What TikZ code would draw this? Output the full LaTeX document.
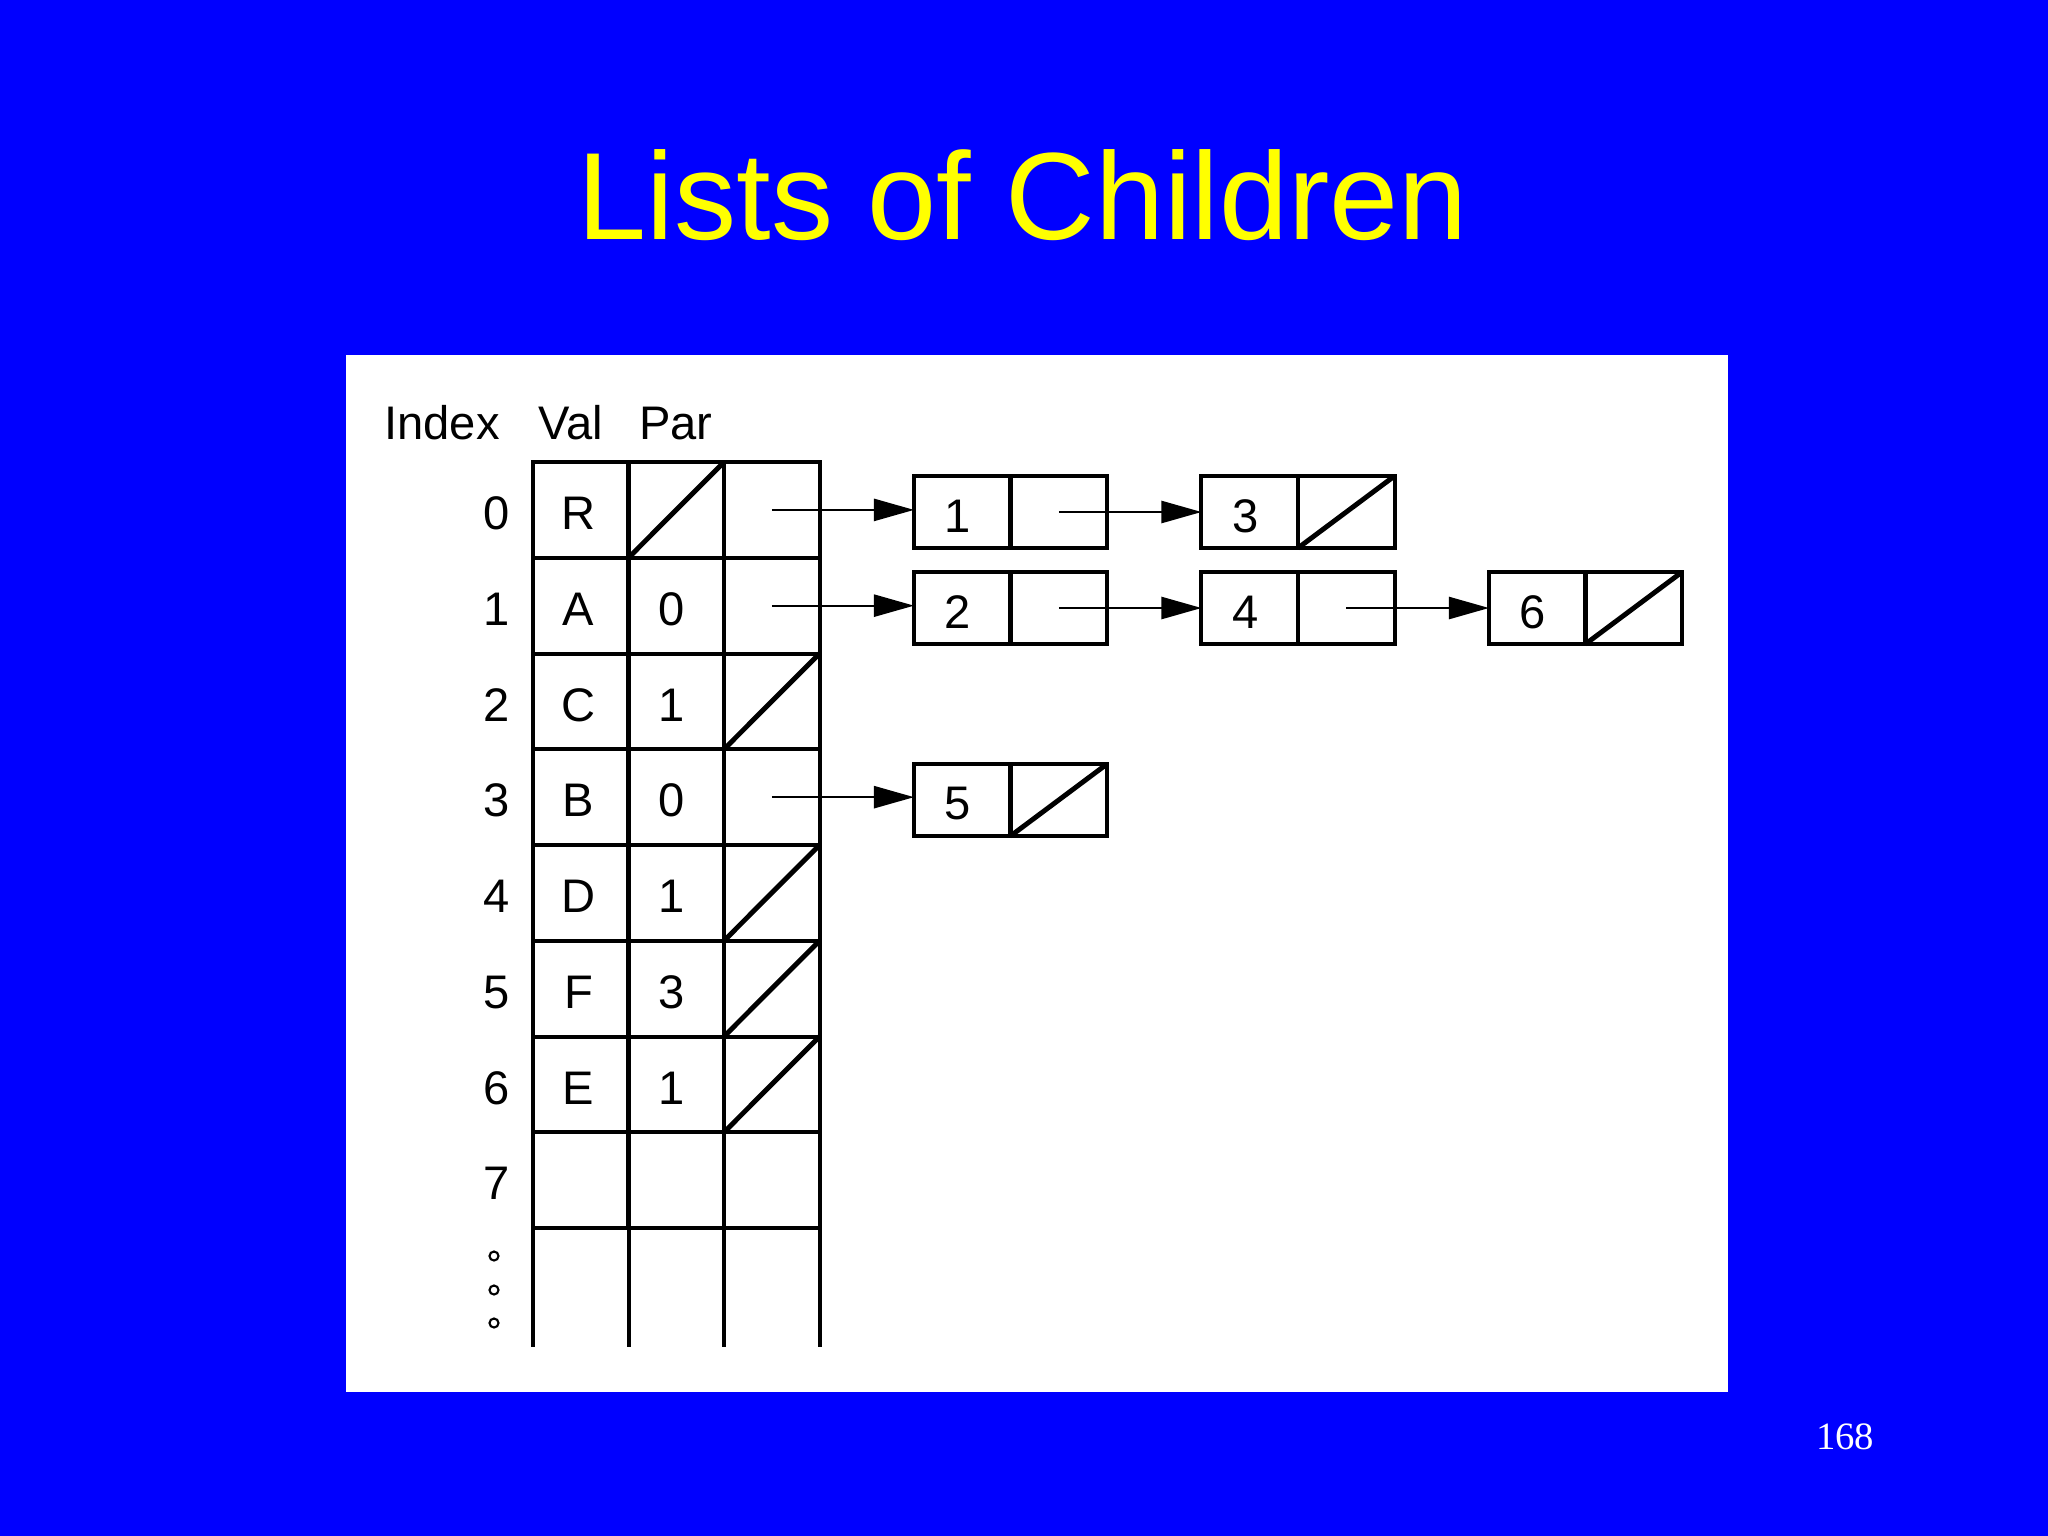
\documentclass[tikz,border=0pt]{standalone}
\usepackage{fontspec}
\setmainfont{Liberation Sans}
\newfontfamily\pagefont{Liberation Serif}
\usetikzlibrary{arrows.meta}
\definecolor{slideblue}{RGB}{0,0,255}
\definecolor{titleyellow}{RGB}{255,255,0}
\begin{document}
\begin{tikzpicture}[x=0.01cm,y=-0.01cm,
  cell/.style={draw, line width=1.14pt, minimum width=0.955cm, minimum height=0.9575cm, inner sep=0pt, outer sep=0pt},
  lcell/.style={draw, line width=1.14pt, minimum width=0.965cm, minimum height=0.72cm, inner sep=0pt, outer sep=0pt},
  lbl/.style={inner sep=0pt, font=\fontsize{13.4}{16}\selectfont},
  slash/.style={line width=1.4pt},
  grid/.style={line width=1.14pt},
  ptr/.style={line width=0.6pt, -{Triangle[length=11.4pt,width=6.3pt]}}]
% background and panel
\fill[slideblue] (0,0) rectangle (2048,1536);
\fill[white] (346,355) rectangle (1728,1392);
% title and page number
\node[anchor=base, text=titleyellow, inner sep=0pt, font=\fontsize{35.3}{40}\selectfont] (title) at (1023,239) {Lists of Children};
\node[anchor=base, text=white, inner sep=0pt, font=\pagefont\fontsize{11}{13}\selectfont] (pg) at (1845,1449) {168};
% headers
\node[lbl, anchor=base] (hidx) at (442,439) {Index};
\node[lbl, anchor=base] (hval) at (571,439) {Val};
\node[lbl, anchor=base] (hpar) at (676,439) {Par};
% table
\foreach \i/\v/\p in {0/R/{},1/A/0,2/C/1,3/B/0,4/D/1,5/F/3,6/E/1,7/{}/{}} {
  \node[cell] (v\i) at (580.75,{509.9+95.75*\i}) {};
  \node[cell] (p\i) at (676.25,{509.9+95.75*\i}) {};
  \node[cell] (c\i) at (771.75,{509.9+95.75*\i}) {};
  \node[lbl] (i\i) at (497,{513.5+95.75*\i}) {\i};
  \node[lbl] (tv\i) at (578.5,{513.5+95.75*\i}) {\v};
  \node[lbl] (tp\i) at (672,{513.5+95.75*\i}) {\p};
}
% open bottom part
\coordinate (bot) at (0,1347);
\foreach \a in {v7.south west, v7.south east, p7.south east, c7.south east} {
  \draw[grid] (\a) -- (\a |- bot);
}
\foreach \y in {1256,1290,1323} {
  \draw[line width=0.6pt] (494,\y) circle[radius=0.045cm];
}
% null slashes in table
\foreach \n in {p0,c2,c4,c5,c6} {
  \draw[slash] (\n.south west) -- (\n.north east);
}
% list nodes
\node[lcell] (a1v) at (962.25,512) {};
\node[lcell] (a1p) at (1058.75,512) {};
\node[lcell] (a3v) at (1249.75,512) {};
\node[lcell] (a3p) at (1346.25,512) {};
\node[lcell] (b2v) at (962.25,608) {};
\node[lcell] (b2p) at (1058.75,608) {};
\node[lcell] (b4v) at (1249.75,608) {};
\node[lcell] (b4p) at (1346.25,608) {};
\node[lcell] (b6v) at (1537.25,608) {};
\node[lcell] (b6p) at (1633.75,608) {};
\node[lcell] (d5v) at (962.25,800) {};
\node[lcell] (d5p) at (1058.75,800) {};
\node[lbl] (ta1) at (958,516) {1};
\node[lbl] (ta3) at (1246,516) {3};
\node[lbl] (tb2) at (958,612) {2};
\node[lbl] (tb4) at (1246,612) {4};
\node[lbl] (tb6) at (1533,612) {6};
\node[lbl] (td5) at (958,804) {5};
\foreach \n in {a3p,b6p,d5p} {
  \draw[slash] (\n.south west) -- (\n.north east);
}
% pointers
\draw[ptr] (c0.center) -- (c0.center -| a1v.west);
\draw[ptr] (a1p.center) -- (a1p.center -| a3v.west);
\draw[ptr] (c1.center) -- (c1.center -| b2v.west);
\draw[ptr] (b2p.center) -- (b2p.center -| b4v.west);
\draw[ptr] (b4p.center) -- (b4p.center -| b6v.west);
\draw[ptr] (c3.center) -- (c3.center -| d5v.west);
\end{tikzpicture}
\end{document}
